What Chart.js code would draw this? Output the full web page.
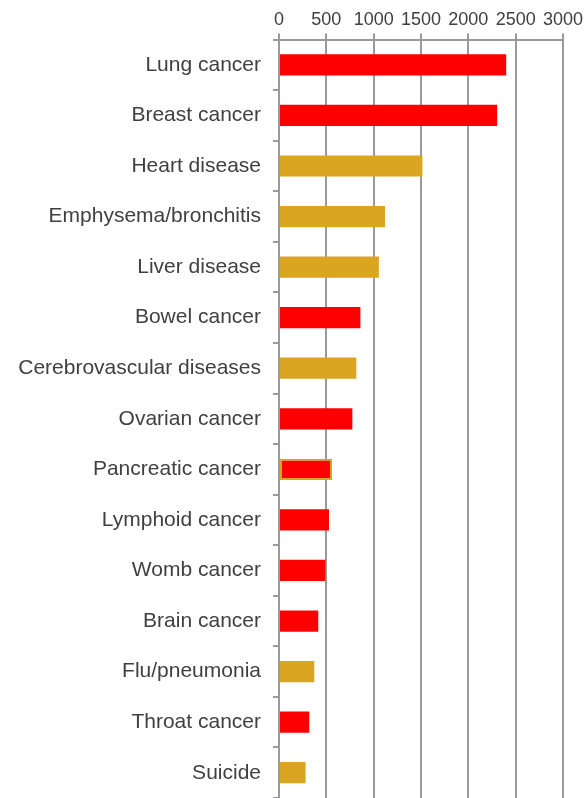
<!DOCTYPE html>
<html>
<head>
<meta charset="utf-8">
<script src="https://cdn.jsdelivr.net/npm/chart.js@4"></script>
<style>
  html, body { margin: 0; padding: 0; background: #fff; }
  #wrap { width: 586px; height: 798px; }
</style>
</head>
<body>
<div id="wrap"><canvas id="bar-chart"></canvas></div>
<script>
// data
const causes = [
  'Lung cancer', 'Breast cancer', 'Heart disease', 'Emphysema/bronchitis',
  'Liver disease', 'Bowel cancer', 'Cerebrovascular diseases', 'Ovarian cancer',
  'Pancreatic cancer', 'Lymphoid cancer', 'Womb cancer', 'Brain cancer',
  'Flu/pneumonia', 'Throat cancer', 'Suicide'
];
const deaths = [2400, 2305, 1515, 1120, 1055, 860, 817, 775, 560, 528, 490, 415, 373, 320, 281];
const group = [
  'cancer', 'cancer', 'other', 'other', 'other', 'cancer', 'other', 'cancer',
  'cancer', 'cancer', 'cancer', 'cancer', 'other', 'cancer', 'other'
];
const xTicks = [0, 500, 1000, 1500, 2000, 2500, 3000];

const RED = '#FF0000';
const GOLD = '#DAA520';
const GRID = '#9a9a9a';
const TEXT = '#404040';
const outlined = 'Pancreatic cancer';

const ctx = document.getElementById('bar-chart').getContext('2d');

new Chart(ctx, {
  type: 'bar',
  data: {
    labels: causes,
    datasets: [{
      data: deaths,
      backgroundColor: group.map(g => (g === 'cancer' ? RED : GOLD)),
      borderColor: GOLD,
      borderWidth: causes.map(c => (c === outlined ? 2 : 0)),
      borderSkipped: false,
      categoryPercentage: 1,
      barPercentage: 0.42,
    }],
  },
  options: {
    indexAxis: 'y',
    responsive: true,
    maintainAspectRatio: false,
    animation: false,
    layout: { padding: { top: 6, right: 3, bottom: 0, left: 0 } },
    plugins: {
      legend: { display: false },
      tooltip: { enabled: false },
    },
    scales: {
      x: {
        position: 'top',
        min: xTicks[0],
        max: xTicks[xTicks.length - 1],
        afterBuildTicks: scale => {
          scale.ticks = xTicks.map(v => ({ value: v }));
        },
        grid: { color: GRID, lineWidth: 2, tickLength: 6 },
        border: { color: GRID, width: 2 },
        ticks: {
          color: TEXT,
          padding: 3,
          maxRotation: 0,
          callback: v => String(v),
          font: { family: 'Liberation Sans, Arial, sans-serif', size: 18 },
        },
      },
      y: {
        afterFit: scale => {
          scale.width = 279;
          scale.paddingTop = 0;
          scale.paddingBottom = 0;
        },
        grid: { color: GRID, lineWidth: 2, tickLength: 6, drawOnChartArea: false, offset: true },
        border: { color: GRID, width: 2 },
        ticks: {
          color: TEXT,
          padding: 12,
          autoSkip: false,
          font: { family: 'Liberation Sans, Arial, sans-serif', size: 21 },
        },
      },
    },
  },
});
</script>
</body>
</html>
